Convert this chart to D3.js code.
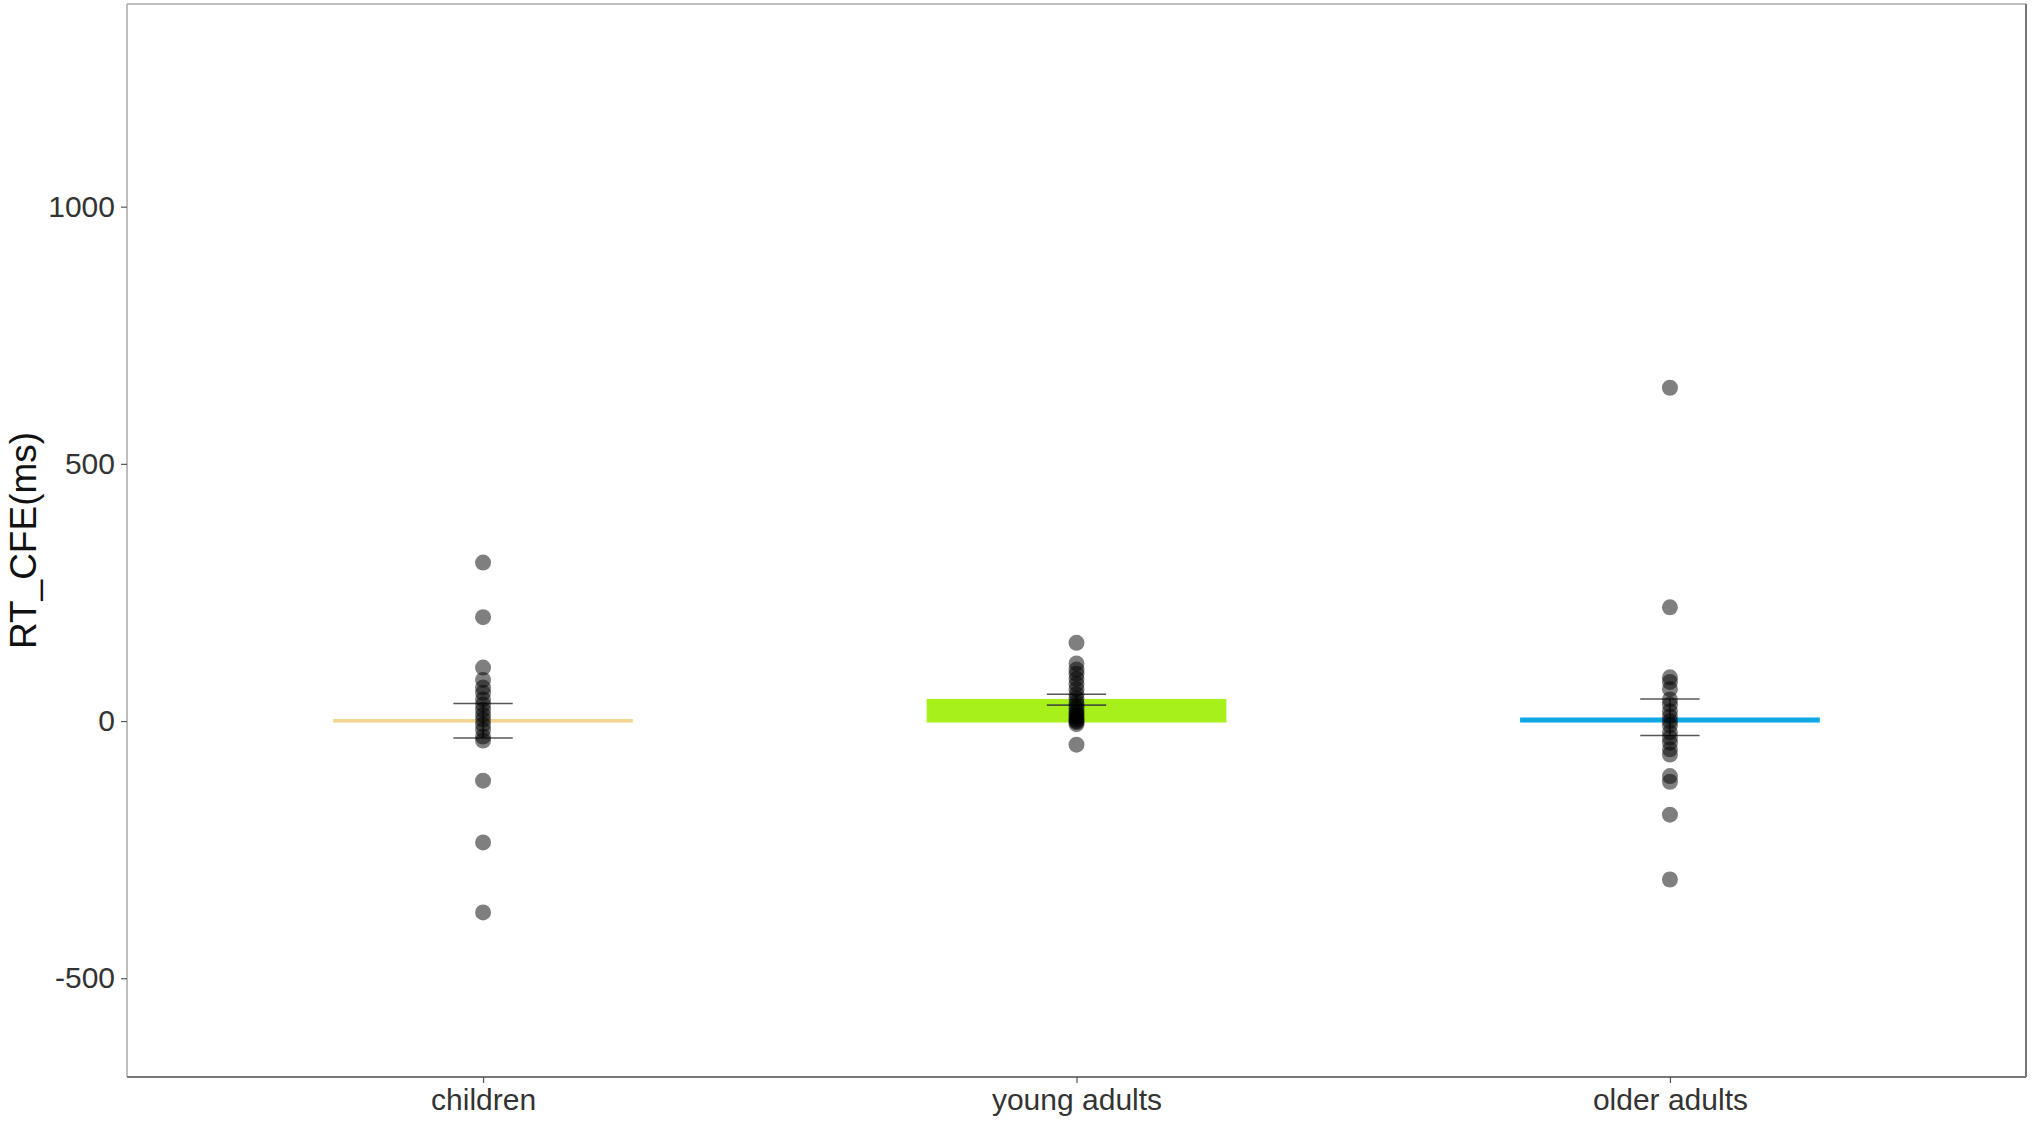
<!DOCTYPE html>
<html>
<head>
<meta charset="utf-8">
<script src="https://cdn.jsdelivr.net/npm/d3@7"></script>
<style>
  html, body { margin: 0; padding: 0; background: #ffffff; }
  svg { display: block; }
</style>
</head>
<body>
<svg id="chart" width="2032" height="1122"></svg>
<script>
// ---- data ----
const categories = ["children", "young adults", "older adults"];
const barMeans   = [1, 40, 4];
const errLow     = [-33, 31, -28];
const errHigh    = [34, 52, 43];
const barColors  = ["#F2D58E", "#A8F01C", "#0FA8E4"];

const childrenPts = [308, 202, 104, 80, 65, 55, 42, 32, 22, 12, 3, -7, -17, -30, -38, -116, -236, -372];
const youngPts    = [152, 112, 100, 92, 82, 72, 62, 52, 44, 36, 30, 24, 18, 14, 10, 6, 3, 0, -2, -6, -46];
const olderPts    = [648, 221, 85, 76, 62, 42, 32, 19, 9, 0, -8, -22, -32, -42, -55, -65, -107, -118, -182, -308];
const pointSets   = [childrenPts, youngPts, olderPts];

const yTicks = [-500, 0, 500, 1000];
const yDomain = [-692, 1394];
const yTitle = "RT_CFE(ms)";

// ---- layout ----
const svg = d3.select("#chart");
const panel = { left: 127, right: 2026, top: 4, bottom: 1077 };

const x = d3.scalePoint()
  .domain(categories)
  .range([panel.left, panel.right])
  .padding(0.6);
const step = x.step();

const y = d3.scaleLinear()
  .domain(yDomain)
  .range([panel.bottom, panel.top]);

// panel background
svg.append("rect")
  .attr("x", panel.left).attr("y", panel.top)
  .attr("width", panel.right - panel.left)
  .attr("height", panel.bottom - panel.top)
  .attr("fill", "#ffffff");

// bars
const barW = step * 0.5;
svg.append("g").selectAll("rect")
  .data(categories)
  .join("rect")
  .attr("x", d => x(d) - barW / 2)
  .attr("width", barW)
  .attr("y", (d, i) => y(Math.max(0, barMeans[i])))
  .attr("height", (d, i) => Math.abs(y(0) - y(barMeans[i])))
  .attr("fill", (d, i) => barColors[i])
  .attr("stroke", (d, i) => barColors[i])
  .attr("stroke-width", 3);

// error bars
const ebW = step * 0.1;
const eb = svg.append("g").attr("stroke", "#3a3a3a").attr("stroke-width", 1.6).attr("stroke-opacity", 0.85);
categories.forEach((c, i) => {
  const cx = x(c);
  eb.append("line").attr("x1", cx).attr("x2", cx).attr("y1", y(errLow[i])).attr("y2", y(errHigh[i]));
  eb.append("line").attr("x1", cx - ebW / 2).attr("x2", cx + ebW / 2).attr("y1", y(errHigh[i])).attr("y2", y(errHigh[i]));
  eb.append("line").attr("x1", cx - ebW / 2).attr("x2", cx + ebW / 2).attr("y1", y(errLow[i])).attr("y2", y(errLow[i]));
});

// points
const ptsG = svg.append("g");
categories.forEach((c, i) => {
  ptsG.selectAll(null)
    .data(pointSets[i])
    .join("circle")
    .attr("cx", x(c))
    .attr("cy", d => y(d))
    .attr("r", 8)
    .attr("fill", "#000000")
    .attr("fill-opacity", 0.5);
});

// panel border
svg.append("line").attr("x1", panel.left).attr("x2", panel.left).attr("y1", panel.top).attr("y2", panel.bottom)
  .attr("stroke", "#a8a8a8").attr("stroke-width", 1.5);
svg.append("line").attr("x1", panel.left).attr("x2", panel.right).attr("y1", panel.top).attr("y2", panel.top)
  .attr("stroke", "#a8a8a8").attr("stroke-width", 1.5);
svg.append("line").attr("x1", panel.right).attr("x2", panel.right).attr("y1", panel.top).attr("y2", panel.bottom)
  .attr("stroke", "#777777").attr("stroke-width", 2);
svg.append("line").attr("x1", panel.left).attr("x2", panel.right).attr("y1", panel.bottom).attr("y2", panel.bottom)
  .attr("stroke", "#777777").attr("stroke-width", 2);

// y axis
const yAxis = d3.axisLeft(y).tickValues(yTicks).tickSize(6).tickPadding(6).tickFormat(d => String(d));
const gy = svg.append("g").attr("transform", `translate(${panel.left},0)`).call(yAxis);
gy.select(".domain").remove();
gy.selectAll(".tick line").attr("stroke", "#555").attr("stroke-width", 1.2);
gy.selectAll(".tick text")
  .attr("font-family", "Liberation Sans, Arial, sans-serif")
  .attr("font-size", 30)
  .attr("fill", "#333333");

// x axis
const xAxis = d3.axisBottom(x).tickSize(6).tickPadding(6);
const gx = svg.append("g").attr("transform", `translate(0,${panel.bottom})`).call(xAxis);
gx.select(".domain").remove();
gx.selectAll(".tick line").attr("stroke", "#555").attr("stroke-width", 1.2);
gx.selectAll(".tick text")
  .attr("font-family", "Liberation Sans, Arial, sans-serif")
  .attr("font-size", 30)
  .attr("fill", "#333333");

// y title
svg.append("text")
  .attr("transform", `translate(36,${(panel.top + panel.bottom) / 2}) rotate(-90)`)
  .attr("text-anchor", "middle")
  .attr("font-family", "Liberation Sans, Arial, sans-serif")
  .attr("font-size", 37)
  .attr("fill", "#111111")
  .text(yTitle);
</script>
</body>
</html>
